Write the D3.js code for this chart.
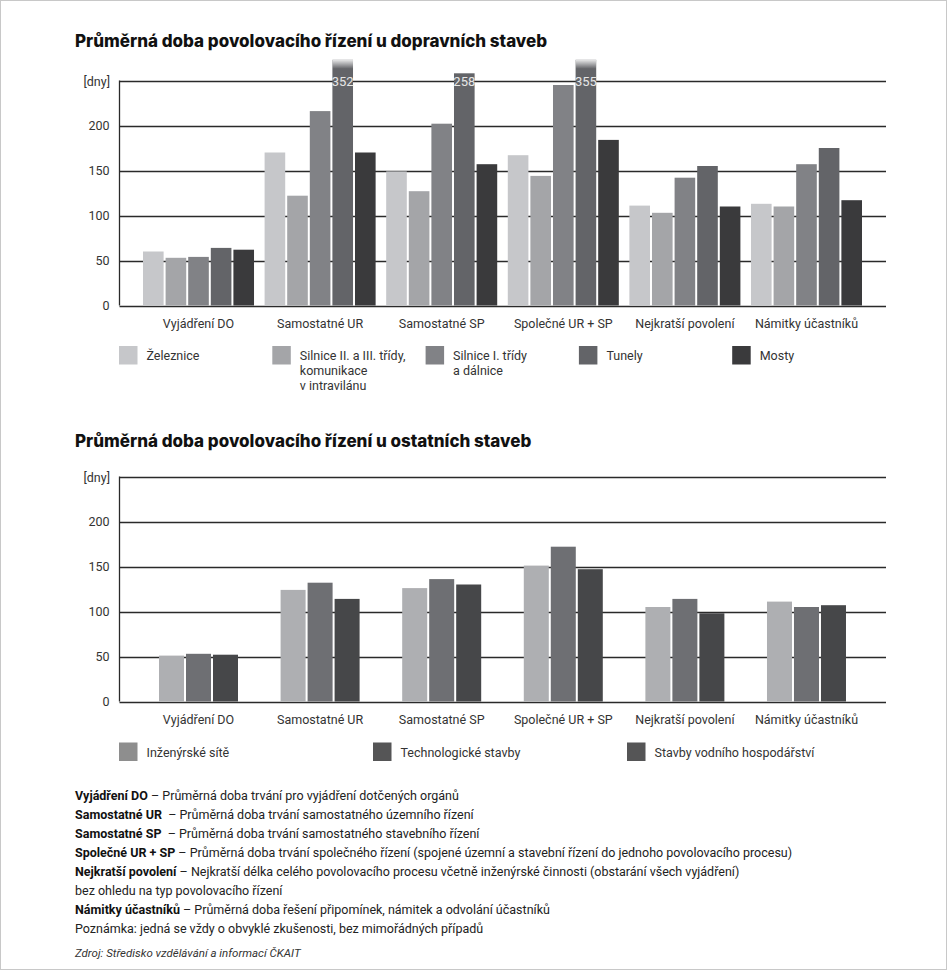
<!DOCTYPE html>
<html><head><meta charset="utf-8">
<script src="https://cdn.jsdelivr.net/npm/d3@7"></script>
<style>
html,body{margin:0;padding:0;background:#fff;}
svg{display:block;font-family:Roboto,"DejaVu Sans",sans-serif;}
</style></head>
<body>
<svg id="c" width="947" height="970"></svg>
<script>
// ---------- DATA ----------
const categories = ["Vyjádření DO","Samostatné UR","Samostatné SP","Společné UR + SP","Nejkratší povolení","Námitky účastníků"];

const transportNames = ["Železnice","Silnice II. a III. třídy, komunikace v intravilánu","Silnice I. třídy a dálnice","Tunely","Mosty"];
const transportLegendLines = [["Železnice"],["Silnice II. a III. třídy,","komunikace","v intravilánu"],["Silnice I. třídy","a dálnice"],["Tunely"],["Mosty"]];
const zeleznice = [60,170,149,167,111,113];
const silniceII = [53,122,127,144,103,110];
const silniceI  = [54,216,202,245,142,157];
const tunely    = [64,352,258,355,155,175];
const mosty     = [62,170,157,184,110,117];

const otherNames = ["Inženýrské sítě","Technologické stavby","Stavby vodního hospodářství"];
const inzenyrske   = [51,124,126,151,105,111];
const technologicke= [53,132,136,172,114,105];
const vodni        = [52,114,130,147,98,107];

const yTicks = [0,50,100,150,200];
const yUnit = "[dny]";
const yMax = 250;
const axisCap = 273;

const title1 = "Průměrná doba povolovacího řízení u dopravních staveb";
const title2 = "Průměrná doba povolovacího řízení u ostatních staveb";

const notes = [
 ["Vyjádření DO"," – Průměrná doba trvání pro vyjádření dotčených orgánů"],
 ["Samostatné UR","  – Průměrná doba trvání samostatného územního řízení"],
 ["Samostatné SP","  – Průměrná doba trvání samostatného stavebního řízení"],
 ["Společné UR + SP"," – Průměrná doba trvání společného řízení (spojené územní a stavební řízení do jednoho povolovacího procesu)"],
 ["Nejkratší povolení"," – Nejkratší délka celého povolovacího procesu včetně inženýrské činnosti (obstarání všech vyjádření)"],
 ["","bez ohledu na typ povolovacího řízení"],
 ["Námitky účastníků"," – Průměrná doba řešení připomínek, námitek a odvolání účastníků"],
 ["","Poznámka: jedná se vždy o obvyklé zkušenosti, bez mimořádných případů"]
];
const source = "Zdroj: Středisko vzdělávání a informací ČKAIT";

// ---------- STYLE ----------
const transportColors = ["#c6c7ca","#a4a5a8","#818286","#636468","#3a3a3c"];
const otherColors = ["#aeafb2","#6e6f73","#464749"];
const otherLegendColors = ["#8e8e8e","#555556","#555556"];

const svg = d3.select("#c");
svg.append("rect").attr("x",0.5).attr("y",0.5).attr("width",946).attr("height",969)
  .attr("fill","#fff").attr("stroke","#c8c8c8");

const defs = svg.append("defs");
const grad = defs.append("linearGradient").attr("id","fade").attr("x1",0).attr("y1",0).attr("x2",0).attr("y2",1);
grad.append("stop").attr("offset",0).attr("stop-color","#fff").attr("stop-opacity",0.85);
grad.append("stop").attr("offset",1).attr("stop-color","#fff").attr("stop-opacity",0);

const xLeft = 119.5, xRight = 886;
const x = d3.scaleBand().domain(categories).range([143,862]).paddingInner(0.087);

function drawChart(opts){
  const g = svg.append("g");
  const y = d3.scaleLinear().domain([0,yMax]).range([opts.y0, opts.y0-225]);
  // title
  g.append("text").attr("x",75).attr("y",opts.titleY).text(opts.title)
    .attr("font-family","Inter, Roboto, sans-serif")
    .attr("font-size",17).attr("font-weight",800).attr("fill","#111");
  // gridlines
  const grid = yTicks.concat([yMax]);
  g.selectAll("line.grid").data(grid).join("line")
    .attr("x1",xLeft).attr("x2",xRight)
    .attr("y1",d=>Math.round(y(d))+0.5).attr("y2",d=>Math.round(y(d))+0.5)
    .attr("stroke","#2a2a2a").attr("stroke-width",1.3);
  g.append("line").attr("x1",xLeft).attr("x2",xLeft).attr("y1",y(yMax)).attr("y2",y(0))
    .attr("stroke","#2a2a2a").attr("stroke-width",1.3);
  // y labels
  g.selectAll("text.yt").data(yTicks).join("text")
    .attr("x",109.5).attr("y",d=>y(d)+4.5).attr("text-anchor","end")
    .attr("font-size",12.5).attr("fill","#333").text(d=>d);
  g.append("text").attr("x",110).attr("y",y(yMax)+5).attr("text-anchor","end")
    .attr("font-size",12.5).attr("fill","#333").text(yUnit);
  // bars
  const inner = d3.scaleBand().domain(d3.range(opts.series.length))
    .range(opts.innerRange).paddingInner(opts.innerPad);
  opts.series.forEach((vals,si)=>{
    const sg = g.append("g");
    sg.selectAll("rect").data(vals.map((v,i)=>({v,c:categories[i]}))).join("rect")
      .attr("x",d=>x(d.c)+inner(si)).attr("width",inner.bandwidth())
      .attr("y",d=>y(Math.min(d.v,axisCap))).attr("height",d=>y(0)-y(Math.min(d.v,axisCap)))
      .attr("fill",opts.colors[si]);
    const over = vals.map((v,i)=>({v,c:categories[i]})).filter(d=>d.v>yMax);
    sg.selectAll("rect.fade").data(over).join("rect").attr("class","fade")
      .attr("x",d=>x(d.c)+inner(si)).attr("width",inner.bandwidth())
      .attr("y",y(axisCap)).attr("height",9).attr("fill","url(#fade)");
    sg.selectAll("text").data(over).join("text")
      .attr("x",d=>x(d.c)+inner(si)+inner.bandwidth()/2).attr("y",y(yMax)+5)
      .attr("text-anchor","middle").attr("font-size",13).attr("fill","#e6e6e6").text(d=>d.v);
  });
  // x labels
  g.selectAll("text.xl").data(categories).join("text")
    .attr("x",d=>x(d)+x.bandwidth()/2).attr("y",opts.y0+22)
    .attr("text-anchor","middle").attr("font-size",12.5).attr("fill","#333").text(d=>d);
  // legend
  opts.legend.forEach((lines,i)=>{
    const lx = opts.legX0 + i*opts.legStep;
    g.append("rect").attr("x",lx).attr("y",opts.legY).attr("width",18.5).attr("height",18.5)
      .attr("fill",opts.legColors[i]);
    lines.forEach((t,k)=>{
      g.append("text").attr("x",lx+27.5).attr("y",opts.legY+14+k*14.8)
        .attr("font-size",12.5).attr("fill","#333").text(t);
    });
  });
}

drawChart({
  title:title1, titleY:46.5, y0:305.5,
  series:[zeleznice,silniceII,silniceI,tunely,mosty], colors:transportColors,
  innerRange:[0,x.bandwidth()], innerPad:0.088,
  legend:transportLegendLines, legColors:transportColors, legX0:119, legStep:153.3, legY:346
});
drawChart({
  title:title2, titleY:446.5, y0:701.5,
  series:[inzenyrske,technologicke,vodni], colors:otherColors,
  innerRange:[16,95], innerPad:0.074,
  legend:otherNames.map(n=>[n]), legColors:otherLegendColors, legX0:119, legStep:254, legY:742.5
});

// footnotes
const fn = svg.append("g").attr("font-size",12.5).attr("fill","#222");
notes.forEach((n,i)=>{
  const t = fn.append("text").attr("x",75).attr("y",800+i*19).style("white-space","pre");
  if(n[0]) t.append("tspan").attr("font-weight",700).attr("fill","#111").text(n[0]);
  t.append("tspan").text(n[1]);
});
fn.append("text").attr("x",75).attr("y",957).attr("font-size",11.5).attr("font-style","italic").attr("fill","#333").text(source);
</script>
</body></html>
